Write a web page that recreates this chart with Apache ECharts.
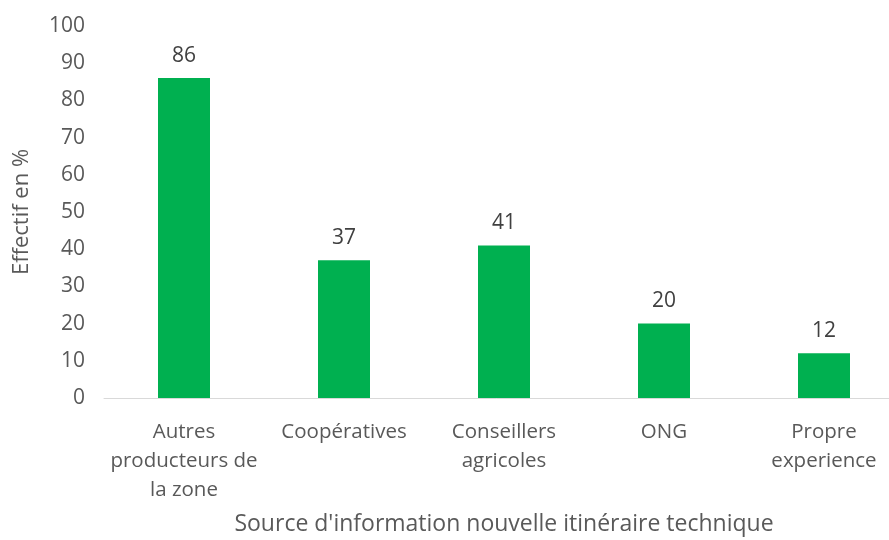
<!DOCTYPE html>
<html><head><meta charset="utf-8">
<script src="https://cdn.jsdelivr.net/npm/echarts@6/dist/echarts.min.js"></script>
<style>html,body{margin:0;padding:0;background:#fff}#c{width:889px;height:540px}</style>
</head><body><div id="c"></div>
<script>
const categories = ["Autres\nproducteurs de\nla zone", "Coopératives", "Conseillers\nagricoles", "ONG", "Propre\nexperience"];
const values = [86, 37, 41, 20, 12];
const yTicks = {min: 0, max: 100, interval: 10};
const xTitle = "Source d'information nouvelle itinéraire technique";
const yTitle = "Effectif en %";

const FONT = "'Open Sans', sans-serif";
const chart = echarts.init(document.getElementById('c'), null, {renderer: 'canvas'});
chart.setOption({
  animation: false,
  backgroundColor: '#fff',
  grid: {left: 104, width: 800, top: 26, height: 372, containLabel: false, outerBoundsMode: 'none'},
  xAxis: {
    type: 'category', data: categories,
    axisLine: {show: true, lineStyle: {color: '#d9d9d9', width: 1}},
    axisTick: {show: false},
    axisLabel: {color: '#595959', fontFamily: FONT, fontSize: 20.5, lineHeight: 29, margin: 20, interval: 0},
    name: xTitle, nameLocation: 'middle', nameGap: 115,
    nameTextStyle: {color: '#595959', fontFamily: FONT, fontSize: 23}
  },
  yAxis: {
    type: 'value', min: yTicks.min, max: yTicks.max, interval: yTicks.interval,
    splitLine: {show: false},
    axisLine: {show: false}, axisTick: {show: false},
    axisLabel: {color: '#595959', fontFamily: FONT, fontSize: 21, margin: 19},
    name: yTitle, nameLocation: 'middle', nameGap: 71, nameRotate: 90,
    nameTextStyle: {color: '#595959', fontFamily: FONT, fontSize: 22}
  },
  series: [{
    type: 'bar', data: values, barWidth: 52,
    itemStyle: {color: '#00b050'},
    label: {show: true, position: 'top', distance: 12, color: '#404040', fontFamily: FONT, fontSize: 21}
  }]
});
</script></body></html>
